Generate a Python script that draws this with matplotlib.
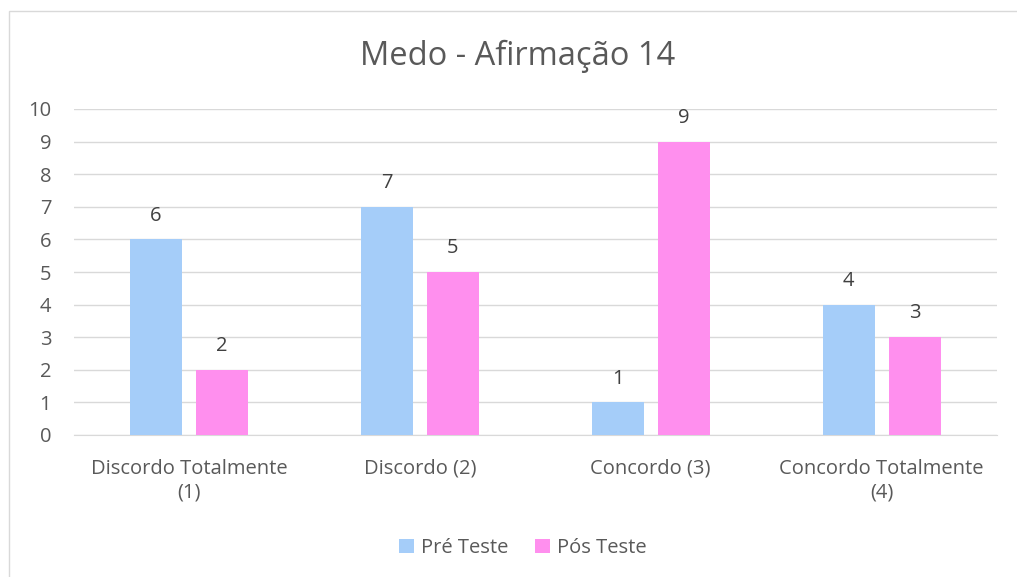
import matplotlib.pyplot as plt
import numpy as np
from matplotlib.patches import Rectangle

categories = ["Discordo Totalmente\n(1)", "Discordo (2)", "Concordo (3)", "Concordo Totalmente\n(4)"]
pre_teste = [6, 7, 1, 4]
pos_teste = [2, 5, 9, 3]
series_names = ["Pré Teste", "Pós Teste"]

plt.rcParams['font.family'] = ['Open Sans', 'DejaVu Sans']
txt = "#595959"

fig = plt.figure(figsize=(10.17, 5.77), dpi=100)
ax = fig.add_axes([73.5/1017, 1-435/577, 923.5/1017, 326/577])

# chart border (only left and top edges fall inside the image)
fig.patches.append(Rectangle((9/1017, -0.1), 1.2, (577-11)/577 + 0.1, transform=fig.transFigure,
                             fill=False, edgecolor="#D9D9D9", linewidth=1))

x = np.arange(len(categories))
w = 0.225
off = 0.143
b1 = ax.bar(x - off, pre_teste, w, color="#A5CDF9", label=series_names[0], zorder=3)
b2 = ax.bar(x + off, pos_teste, w, color="#FF8FEE", label=series_names[1], zorder=3)
ax.bar_label(b1, padding=10, color="#404040", fontsize=14.5)
ax.bar_label(b2, padding=10, color="#404040", fontsize=14.5)

ax.set_xlim(-0.5, 3.5)
ax.set_ylim(0, 10)
ax.set_yticks(range(0, 11))
ax.yaxis.grid(True, color="#D9D9D9", linewidth=1, zorder=0)
ax.set_xticks(x)
ax.set_xticklabels(categories, color=txt, fontsize=14.5, linespacing=1.25)
ax.tick_params(axis='y', colors=txt, labelsize=14.5, length=0, pad=16)
ax.tick_params(axis='x', length=0, pad=17)
for s in ["top", "right", "left"]:
    ax.spines[s].set_visible(False)
ax.spines["bottom"].set_color("#D9D9D9")

fig.suptitle("Medo - Afirmação 14", x=518/1017, y=1-56/577, va="center", fontsize=23.5, color=txt)
fig.legend(loc="center", bbox_to_anchor=(523/1017, 1-548/577), ncol=2, frameon=False,
           fontsize=14.5, labelcolor=txt, handlelength=0.75, handleheight=0.75,
           handletextpad=0.35, columnspacing=1.3)

fig.savefig("out.png", dpi=100)
